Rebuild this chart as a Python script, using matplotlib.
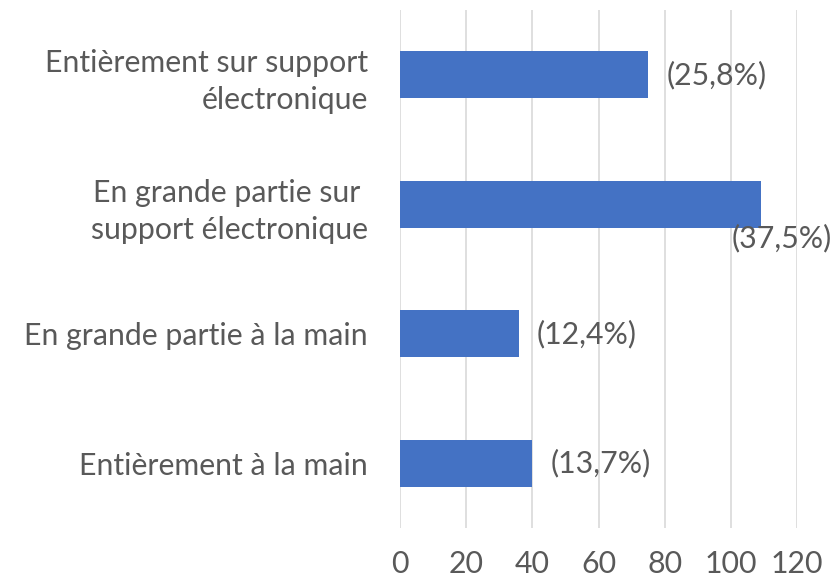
import matplotlib.pyplot as plt

categories = ['Entièrement à la main', 'En grande partie à la main',
              'En grande partie sur \nsupport électronique',
              'Entièrement sur support\nélectronique']
values = [40, 36, 109, 75]
labels = ['(13,7%)', '(12,4%)', '(37,5%)', '(25,8%)']

plt.rcParams['font.family'] = ['Lato', 'DejaVu Sans']
txt = '#595959'
fs = 21.8

fig = plt.figure(figsize=(8.38, 5.82), dpi=100)
ax = fig.add_axes([400 / 838, 1 - 528 / 582, 397 / 838, 518 / 582])

y = range(len(categories))
ax.barh(y, values, height=0.36, color='#4472C4', zorder=3)

ax.set_xlim(0, 120)
ax.set_ylim(-0.5, 3.5)
ax.set_xticks(range(0, 121, 20))
ax.set_yticks(list(y))
ax.set_yticklabels(categories, fontsize=fs, color=txt, linespacing=1.4)
ax.tick_params(axis='x', labelsize=fs, labelcolor=txt, length=0, pad=16)
ax.tick_params(axis='y', length=0, pad=23)
ax.grid(axis='x', color='#d9d9d9', linewidth=1.2, zorder=0)
for s in ax.spines.values():
    s.set_visible(False)

for i, (v, lab) in enumerate(zip(values, labels)):
    if i == 2:
        ax.annotate(lab, (v, i), xytext=(-29, -34), textcoords='offset pixels',
                    va='center', ha='left', fontsize=fs, color=txt)
    else:
        ax.annotate(lab, (v, i), xytext=(18, 0), textcoords='offset pixels',
                    va='center', ha='left', fontsize=fs, color=txt)

fig.savefig('out.png', dpi=100)
